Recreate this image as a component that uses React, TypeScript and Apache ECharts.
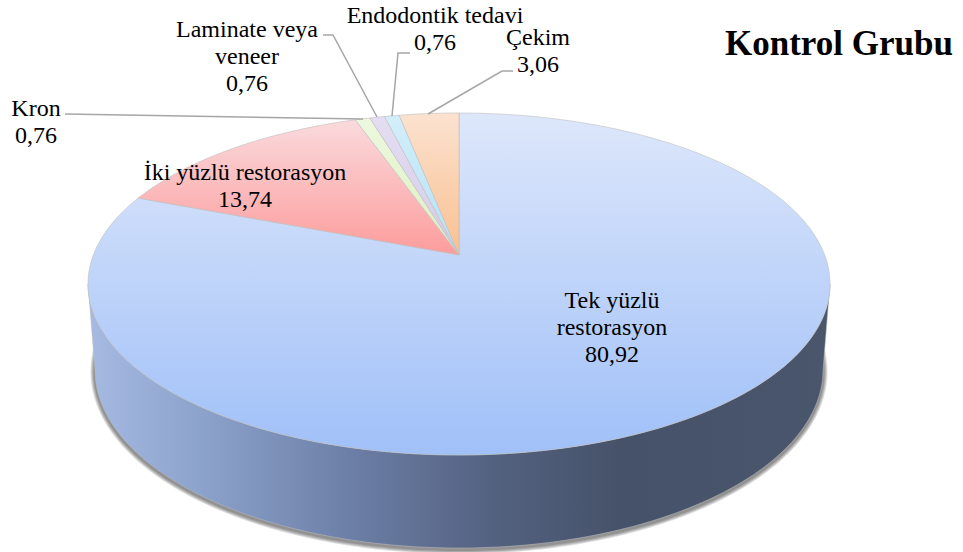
import React, { useEffect, useRef } from "react";
import * as echarts from "echarts";

const categories = ["Tek yüzlü restorasyon", "İki yüzlü restorasyon", "Kron", "Laminate veya veneer", "Endodontik tedavi", "Çekim"];
const seriesValues = [80.92, 13.74, 0.76, 0.76, 0.76, 3.06];
const valueLabels = ["80,92", "13,74", "0,76", "0,76", "0,76", "3,06"];
const labelLines = [["Tek yüzlü", "restorasyon", "80,92"], ["İki yüzlü restorasyon", "13,74"], ["Kron", "0,76"], ["Laminate veya", "veneer", "0,76"], ["Endodontik tedavi", "0,76"], ["Çekim", "3,06"]];
const titleText = "Kontrol Grubu";

const FONT = '"Liberation Serif", "Times New Roman", serif';
const TOP = { cx: 459, cy: 284, rx: 371, ry: 171, a: -0.17 };
const BOTTOM = { cx: 459, cy: 370, rx: 364, ry: 178 };
const sliceColors = [["#DDE7FB", "#A0C0F8"], ["#FADADD", "#FD9C9C"], ["#EDF8DF", "#DCEFC0"], ["#E5DEF2", "#D5CAE8"], ["#D2EEFA", "#B5E2F5"], ["#FBE2D0", "#FAC090"]];
const labelAnchors = [[612, 300], [245, 172], [36, 108], [247, 29], [435, 15], [538, 37]];
const labelLeading = 27;
const leaders = [[[65, 114], [363, 119]], [[323, 35], [333, 35], [377, 117]], [[410, 53], [398, 53], [392, 116]], [[513, 71], [502, 71], [428, 114]]];
const shadowWidths = [9, 7, 5, 3];

function rimPoint(turn: number) {
  const t = turn * 2 * Math.PI;
  const x = Math.sin(t), y = -Math.cos(t);
  const { a } = TOP;
  const d = 1 + a * y;
  return [TOP.cx + TOP.rx * (x * Math.sqrt(1 - a * a)) / d, TOP.cy + TOP.ry * (y + a) / d];
}
const apex = [TOP.cx, TOP.cy + TOP.ry * TOP.a];

export default function App() {
  const ref = useRef<HTMLDivElement>(null);
  useEffect(() => {
    const chart = echarts.init(ref.current!, null, { renderer: "svg" });
    const total = seriesValues.reduce((s, v) => s + v, 0);
    const sideGradient = {
      type: "linear", x: 0, y: 0, x2: 1, y2: 0,
      colorStops: [
        { offset: 0, color: "#A6BAE2" }, { offset: 0.15, color: "#8CA3CC" }, { offset: 0.37, color: "#6A7CA3" },
        { offset: 0.55, color: "#536180" }, { offset: 0.72, color: "#465269" }, { offset: 1, color: "#4A566C" },
      ],
    };
    const renderItem = (params: any, api: any) => {
      const i = params.dataIndex;
      const start = seriesValues.slice(0, i).reduce((s, v) => s + v, 0) / total;
      const end = start + api.value(1) / total;
      const pts: number[][] = [apex];
      const n = Math.max(3, Math.ceil((end - start) * 360));
      for (let k = 0; k <= n; k++) pts.push(rimPoint(start + ((end - start) * k) / n));
      const children: any[] = [];
      if (i === 0) {
        const arc: number[][] = [];
        for (let k = -15; k <= 195; k++) {
          const t = (k / 180) * Math.PI;
          arc.push([BOTTOM.cx + BOTTOM.rx * Math.cos(t), BOTTOM.cy + 1.5 + BOTTOM.ry * Math.sin(t)]);
        }
        shadowWidths.forEach((w) => children.push({
          type: "polyline", shape: { points: arc },
          style: { fill: "none", stroke: "rgba(0,0,0,0.13)", lineWidth: w },
        }));
        const side: number[][] = [];
        for (let k = 0; k <= 180; k++) {
          const t = (k / 180) * Math.PI;
          side.push([TOP.cx + TOP.rx * Math.cos(t), TOP.cy + TOP.ry * Math.sin(t)]);
        }
        for (let k = 180; k >= 0; k--) {
          const t = (k / 180) * Math.PI;
          side.push([BOTTOM.cx + BOTTOM.rx * Math.cos(t), BOTTOM.cy + BOTTOM.ry * Math.sin(t)]);
        }
        children.push({
          type: "polygon", shape: { points: side },
          style: { fill: sideGradient, stroke: "#B8B8B8", lineWidth: 0.5 },
        });
      }
      children.push({
        type: "polygon", shape: { points: pts },
        style: {
          fill: { type: "linear", x: 0, y: 0, x2: 0, y2: 1, colorStops: [{ offset: 0, color: sliceColors[i][0] }, { offset: 1, color: sliceColors[i][1] }] },
          stroke: "#BDBDBD", lineWidth: 0.6,
        },
      });
      return { type: "group", children };
    };
    const graphic: any[] = [];
    leaders.forEach((pts) => graphic.push({ type: "polyline", z: 20, shape: { points: pts }, style: { fill: "none", stroke: "#A6A6A6", lineWidth: 1.5 } }));
    labelLines.forEach((lines, i) =>
      lines.forEach((t, j) =>
        graphic.push({
          type: "text", z: 30, x: labelAnchors[i][0], y: labelAnchors[i][1] + j * labelLeading,
          style: { text: t, fill: "#000", font: `24px ${FONT}`, textAlign: "center", textVerticalAlign: "middle" },
        })
      )
    );
    graphic.push({ type: "text", z: 30, x: 725, y: 43, style: { text: titleText, fill: "#000", font: `bold 35px ${FONT}`, textAlign: "left", textVerticalAlign: "middle" } });
    chart.setOption({
      animation: false,
      backgroundColor: "#fff",
      xAxis: { show: false, type: "value", min: 0, max: 1 },
      yAxis: { show: false, type: "value", min: 0, max: 1 },
      grid: { left: 0, right: 0, top: 0, bottom: 0 },
      graphic,
      series: [{
        type: "custom", renderItem, coordinateSystem: "none", silent: true, clip: false,
        data: categories.map((c, i) => ({ name: c, value: [i, seriesValues[i]], label: valueLabels[i] })),
      }],
    });
    return () => chart.dispose();
  }, []);
  return <div ref={ref} style={{ position: "absolute", left: 0, top: 0, width: 963, height: 552 }} />;
}
